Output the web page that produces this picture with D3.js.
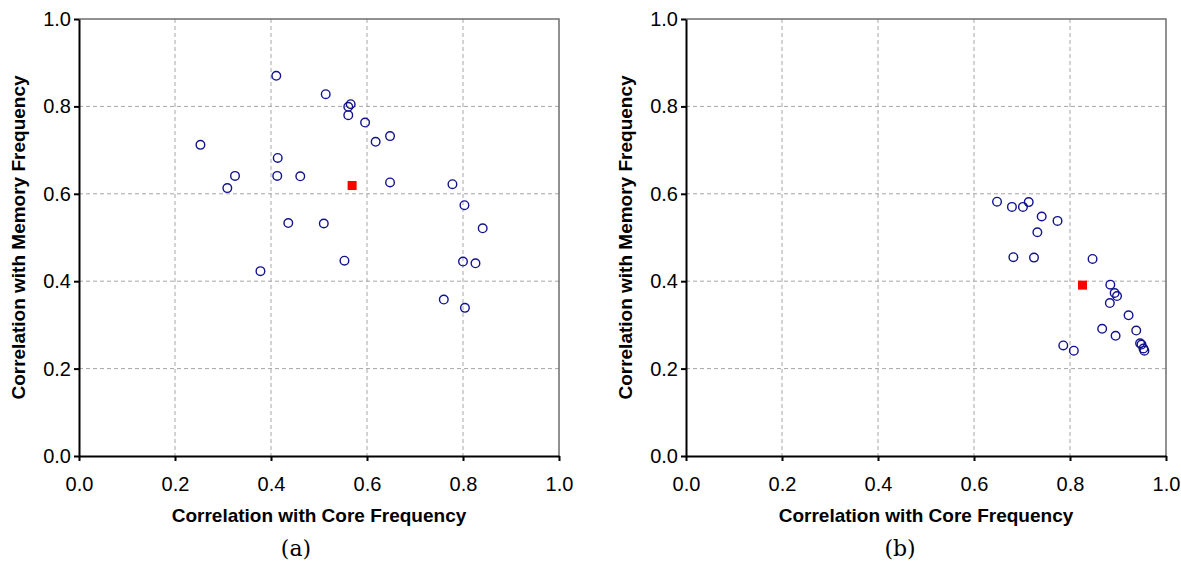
<!DOCTYPE html>
<html>
<head>
<meta charset="utf-8">
<script src="https://cdn.jsdelivr.net/npm/d3@7"></script>
<style>
  body { margin: 0; background: #fff; }
  svg { display: block; }
</style>
</head>
<body>
<script>
// panel (a): processor samples, x = corr. with core freq, y = corr. with memory freq
const coreA = [0.411, 0.514, 0.561, 0.566, 0.561, 0.596, 0.618, 0.648, 0.461, 0.648,
  0.778, 0.803, 0.841, 0.436, 0.510, 0.553, 0.800, 0.826, 0.760, 0.804,
  0.253, 0.325, 0.309, 0.414, 0.413, 0.378];
const memA = [0.870, 0.828, 0.799, 0.805, 0.780, 0.763, 0.719, 0.732, 0.640, 0.626,
  0.622, 0.574, 0.521, 0.533, 0.532, 0.447, 0.445, 0.441, 0.358, 0.339,
  0.712, 0.641, 0.613, 0.682, 0.641, 0.423];
const avgA = [0.569, 0.619];

// panel (b)
const coreB = [0.648, 0.679, 0.702, 0.714, 0.741, 0.774, 0.732, 0.682, 0.725, 0.847,
  0.884, 0.893, 0.898, 0.883, 0.922, 0.867, 0.895, 0.938, 0.946, 0.949,
  0.953, 0.955, 0.786, 0.808];
const memB = [0.582, 0.570, 0.570, 0.581, 0.548, 0.538, 0.512, 0.455, 0.454, 0.451,
  0.392, 0.373, 0.366, 0.350, 0.322, 0.291, 0.275, 0.287, 0.258, 0.255,
  0.246, 0.241, 0.253, 0.241];
const avgB = [0.826, 0.391];

const ticks = [0, 0.2, 0.4, 0.6, 0.8, 1.0];
const xTitle = "Correlation with Core Frequency";
const yTitle = "Correlation with Memory Frequency";
const captions = ["(a)", "(b)"];

const width = 1181, height = 565;
const svg = d3.select("body").append("svg")
    .attr("width", width)
    .attr("height", height);

const panels = [
  {left: 79, core: coreA, mem: memA, avg: avgA, caption: captions[0], capX: 296},
  {left: 686, core: coreB, mem: memB, avg: avgB, caption: captions[1], capX: 900}
];

const plotW = 480, plotTop = 19, plotBottom = 456;
const sans = "'Liberation Sans', Arial, sans-serif";

panels.forEach(p => {
  const x = d3.scaleLinear().domain([0, 1]).range([p.left, p.left + plotW]);
  const y = d3.scaleLinear().domain([0, 1]).range([plotBottom, plotTop]);
  const g = svg.append("g");

  // grid
  g.append("g").selectAll("line")
    .data(ticks.slice(1, -1))
    .join("line")
      .attr("x1", d => x(d)).attr("x2", d => x(d))
      .attr("y1", plotTop).attr("y2", plotBottom)
      .attr("stroke", "#a6a6a6").attr("stroke-dasharray", "4,3");
  g.append("g").selectAll("line")
    .data(ticks.slice(1, -1))
    .join("line")
      .attr("x1", x(0)).attr("x2", x(1))
      .attr("y1", d => y(d)).attr("y2", d => y(d))
      .attr("stroke", "#a6a6a6").attr("stroke-dasharray", "4,3");

  // top and right frame
  g.append("path")
    .attr("d", `M${x(0)},${y(1)}H${x(1)}V${y(0)}`)
    .attr("fill", "none")
    .attr("stroke", "#6e6e6e")
    .attr("stroke-width", 1.5);

  // axes
  g.append("g")
    .attr("transform", `translate(0,${plotBottom})`)
    .call(d3.axisBottom(x).tickValues(ticks).tickFormat(d3.format(".1f"))
      .tickSize(5).tickSizeOuter(0).tickPadding(16))
    .call(a => a.selectAll("line, path").attr("stroke", "#000").attr("stroke-width", 2))
    .call(a => a.selectAll("text").attr("font-family", sans).attr("font-size", 20).attr("fill", "#000"));

  g.append("g")
    .attr("transform", `translate(${p.left},0)`)
    .call(d3.axisLeft(y).tickValues(ticks).tickFormat(d3.format(".1f"))
      .tickSize(5).tickSizeOuter(0).tickPadding(3))
    .call(a => a.selectAll("line, path").attr("stroke", "#000").attr("stroke-width", 2))
    .call(a => a.selectAll("text").attr("font-family", sans).attr("font-size", 20).attr("fill", "#000"));

  // points
  g.append("g").selectAll("circle")
    .data(d3.zip(p.core, p.mem))
    .join("circle")
      .attr("cx", d => x(d[0]))
      .attr("cy", d => y(d[1]))
      .attr("r", 4.3)
      .attr("fill", "none")
      .attr("stroke", "#12128f")
      .attr("stroke-width", 1.4);

  g.append("rect")
    .attr("x", x(p.avg[0]) - 4.5)
    .attr("y", y(p.avg[1]) - 4.5)
    .attr("width", 9).attr("height", 9)
    .attr("fill", "#ff0000");

  // titles
  g.append("text")
    .attr("x", (x(0) + x(1)) / 2)
    .attr("y", 522)
    .attr("text-anchor", "middle")
    .attr("font-family", sans)
    .attr("font-weight", "bold")
    .attr("font-size", 19)
    .text(xTitle);

  g.append("text")
    .attr("transform", `translate(${p.left - 54},${(plotTop + plotBottom) / 2}) rotate(-90)`)
    .attr("text-anchor", "middle")
    .attr("font-family", sans)
    .attr("font-weight", "bold")
    .attr("font-size", 19)
    .text(yTitle);

  g.append("text")
    .attr("x", p.capX)
    .attr("y", 556)
    .attr("text-anchor", "middle")
    .attr("font-family", "'DejaVu Serif', serif")
    .attr("font-size", 22)
    .text(p.caption);
});
</script>
</body>
</html>
